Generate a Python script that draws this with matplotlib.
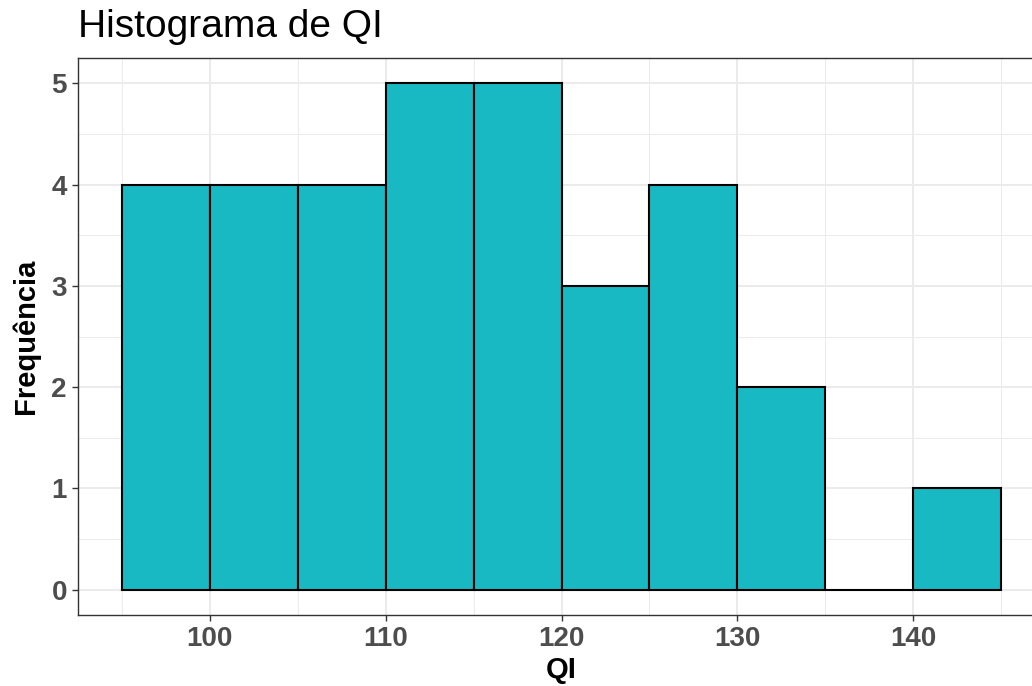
import matplotlib
matplotlib.use("Agg")
import matplotlib.pyplot as plt
import numpy as np

bin_edges = [95, 100, 105, 110, 115, 120, 125, 130, 135, 140, 145]
counts = [4, 4, 4, 5, 5, 3, 4, 2, 0, 1]
x_ticks = [100, 110, 120, 130, 140]
y_ticks = [0, 1, 2, 3, 4, 5]

plt.rcParams['font.family'] = ['Liberation Sans', 'DejaVu Sans']

W, H = 1032, 686
fig = plt.figure(figsize=(W / 100, H / 100), dpi=100)
left, right, top, bottom = 78, 1045, 58, 615
ax = fig.add_axes([left / W, (H - bottom) / H, (right - left) / W, (bottom - top) / H])

edges = np.array(bin_edges, dtype=float)
widths = np.diff(edges)
ax.bar(edges[:-1], counts, width=widths, align='edge', color='#19B9C3',
       edgecolor='black', linewidth=1.5, zorder=3)

ax.set_xlim(92.5, 147.5)
ax.set_ylim(-0.25, 5.25)
ax.set_xticks(x_ticks)
ax.set_yticks(y_ticks)
ax.set_xticks([95, 105, 115, 125, 135, 145], minor=True)
ax.set_yticks([0.5, 1.5, 2.5, 3.5, 4.5], minor=True)
ax.grid(True, which='major', color='#EBEBEB', linewidth=1.4, zorder=0)
ax.grid(True, which='minor', color='#EBEBEB', linewidth=0.7, zorder=0)
ax.set_axisbelow(True)
ax.tick_params(which='minor', length=0)
ax.tick_params(which='major', length=4, width=1.0, color='#333333',
               labelsize=20, labelcolor='#4D4D4D', pad=4)
for lab in ax.get_xticklabels() + ax.get_yticklabels():
    lab.set_fontweight('bold')
for s in ax.spines.values():
    s.set_color('#333333')
    s.set_linewidth(1.0)

ax.set_xlabel('QI', fontsize=21, fontweight='bold', color='black', labelpad=3)
ax.set_ylabel('Frequência', fontsize=21, fontweight='bold', color='black', labelpad=8)
fig.text(left / W, 1 - 27 / H, 'Histograma de QI', fontsize=28, color='black',
         ha='left', va='center')

fig.savefig('out.png', dpi=100)
